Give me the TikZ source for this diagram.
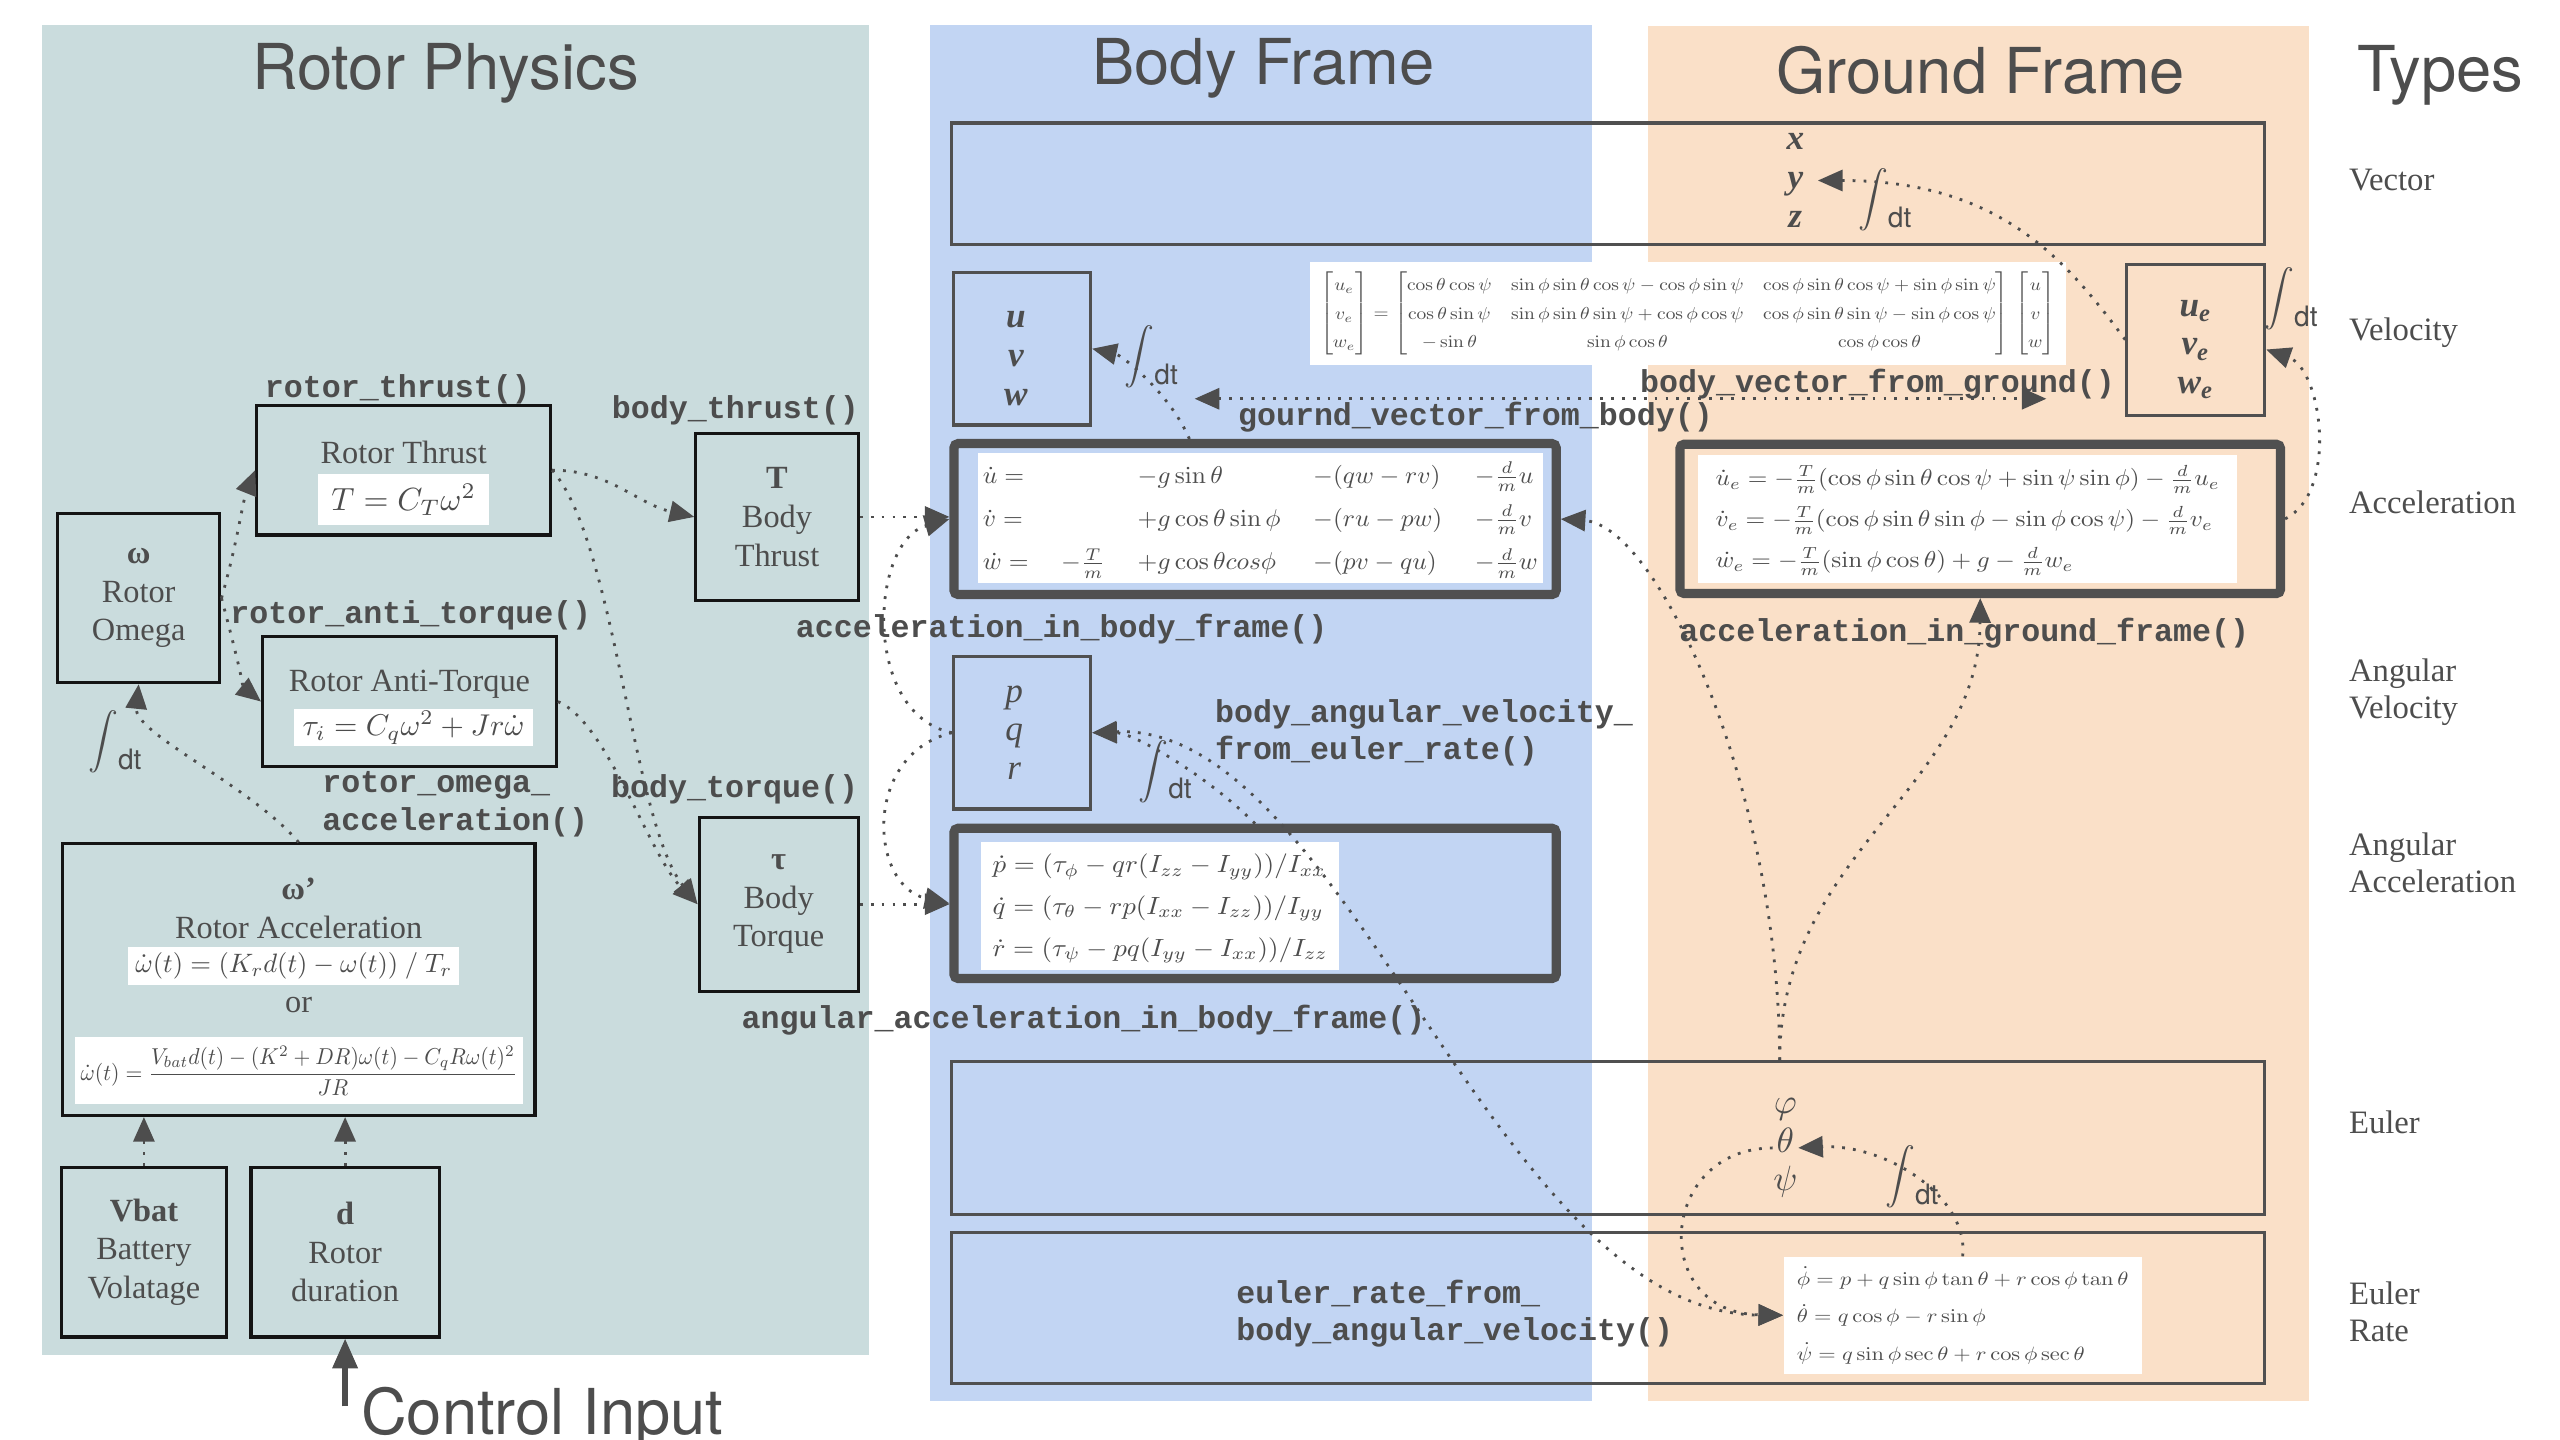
\documentclass[tikz,border=0pt]{standalone}
\usepackage{amsmath}
\usepackage{graphicx}
\usepackage[no-math]{fontspec}
\setmainfont{Liberation Serif}
\setsansfont{TeX Gyre Heros}
\setmonofont{Liberation Mono}
\usepackage{xcolor}
\usepackage{tikz}
\usetikzlibrary{arrows.meta, positioning, calc}

\definecolor{rotorbg}{RGB}{202,220,221}
\definecolor{bodybg}{RGB}{194,213,243}
\definecolor{groundbg}{RGB}{250,224,200}
\definecolor{ink}{RGB}{77,77,77}
\definecolor{rline}{RGB}{20,20,20}
\definecolor{bline}{RGB}{80,80,80}

\newcommand{\du}{0.01641cm}
\newcommand{\boxfont}{\fontsize{9.2}{11}\selectfont}
\newcommand{\fnfont}{\ttfamily\bfseries\fontsize{9}{10.7}\selectfont}
\newcommand{\typefont}{\fontsize{9.3}{10.5}\selectfont}
\newcommand{\headfont}{\sffamily\fontsize{18}{21}\selectfont}
\newcommand{\varfont}{\fontsize{10}{11}\selectfont}
\newcommand{\intdt}{$\displaystyle\int$\raisebox{-5.8pt}{\sffamily dt}}

\tikzset{
    rbox/.style={rectangle, draw=rline, line width=0.9pt, inner sep=0pt, align=center, font=\boxfont, text=ink},
    fbox/.style={rectangle, draw=bline, line width=0.9pt, inner sep=0pt},
    heavy/.style={rectangle, draw=bline, line width=2.6pt, rounded corners=1.2pt, inner sep=0pt},
    eqbox/.style={rectangle, fill=white, inner sep=0pt, text=ink},
    txt/.style={font=\boxfont, text=ink, align=center, inner sep=0pt},
    vartxt/.style={font=\varfont, text=ink, align=center, inner sep=0pt},
    intg/.style={font=\fontsize{8}{9}\selectfont, text=ink, inner sep=0pt},
    fn/.style={font=\fnfont, text=ink, align=left, anchor=west, inner sep=0pt},
    typ/.style={font=\typefont, text=ink, align=left, anchor=west, inner sep=0pt},
    headtxt/.style={font=\headfont, text=ink, anchor=base, inner sep=0pt},
    arrow/.style={draw=ink, line width=0.8pt, dash pattern=on 0.8pt off 2.3pt, -{Triangle[length=7pt, width=6pt]}},
    biarrow/.style={arrow, {Triangle[length=7pt, width=6pt]}-{Triangle[length=7pt, width=6pt]}}
}

\begin{document}
\begin{tikzpicture}[x=0.01641cm, y=-0.01641cm]
    \useasboundingbox (0,0) rectangle (1560,877.5);

    % Panels
    \fill[rotorbg] (25.6,15.4) rectangle (529.5,826);
    \fill[bodybg] (567,15.4) rectangle (970,854);
    \fill[groundbg] (1004,16) rectangle (1407,854);

    % Titles
    \node[headtxt] (hrotor) at (271.5,54.5) {Rotor Physics};
    \node[headtxt] (hbody) at (770,51.5) {Body Frame};
    \node[headtxt] (hground) at (1207,57) {Ground Frame};
    \node[headtxt] (htypes) at (1487,56) {Types};

    % Rotor Physics
    \node[rbox, minimum width=99*\du, minimum height=103*\du] (omega) at (84.5,364.5) {{\bfseries ω}\\Rotor\\Omega};
    \node[intg] (intomega) at (70,452) {\intdt};

    \node[fn] (fnrthrust) at (161,237) {rotor\_thrust()};
    \node[rbox, minimum width=179*\du, minimum height=79*\du] (rthrust) at (246,286.5) {};
    \node[txt] (rthrusttxt) at (246,275.6) {Rotor Thrust};
    \node[eqbox, minimum width=104*\du, minimum height=31*\du] (thrusteq) at (246,304.5) {\resizebox{1.444cm}{!}{$T = C_T\omega^2$}};

    \node[fn] (fnanti) at (140,375) {rotor\_anti\_torque()};
    \node[rbox, minimum width=179*\du, minimum height=79*\du] (antitorque) at (249.5,427.5) {};
    \node[txt] (antitorquetxt) at (249.5,417) {Rotor Anti-Torque};
    \node[eqbox, minimum width=146*\du, minimum height=23*\du] (antieq) at (252,443.4) {\resizebox{2.215cm}{!}{$\tau_i = C_q\omega^2 + Jr\dot\omega$}};

    \node[fn] (fnomega) at (196,490) {rotor\_omega\_\\acceleration()};
    \node[rbox, minimum width=288*\du, minimum height=165.5*\du] (racc) at (182,597) {};
    \node[txt] (racctxt) at (182,553.5) {{\bfseries ω’}\\Rotor Acceleration};
    \node[eqbox, minimum width=202*\du, minimum height=23*\du] (raccq1) at (179,588.5) {\resizebox{3.167cm}{!}{$\dot\omega(t) = (K_r d(t) - \omega(t))\ /\ T_r$}};
    \node[txt] (raccor) at (182,612.6) {or};
    \node[eqbox, minimum width=273.5*\du, minimum height=41*\du] (raccq2) at (182.2,652.5) {\resizebox*{4.365cm}{0.5cm}{$\dot\omega(t) = \dfrac{V_{bat}d(t) - (K^2+DR)\omega(t) - C_qR\omega(t)^2}{JR}$}};

    \node[rbox, minimum width=100.6*\du, minimum height=103.5*\du] (vbat) at (87.7,763) {{\bfseries Vbat}\\Battery\\Volatage};
    \node[rbox, minimum width=114.6*\du, minimum height=103.5*\du] (duty) at (210.3,763) {{\bfseries d}\\Rotor\\duration};
    \coordinate (ctrl) at (210.3,857);
    \node[headtxt, anchor=base west] (ctrltxt) at (219.7,874) {Control Input};

    \node[fn] (fnbthrust) at (372.5,250) {body\_thrust()};
    \node[rbox, minimum width=99*\du, minimum height=102*\du] (bthrust) at (473.5,315) {{\bfseries T}\\Body\\Thrust};
    \node[fn] (fnbtorque) at (372,481) {body\_torque()};
    \node[rbox, minimum width=97*\du, minimum height=106*\du] (btorque) at (474.5,551) {{\bfseries τ}\\Body\\Torque};

    % Vector row
    \node[fbox, minimum width=800.4*\du, minimum height=74*\du] (pos) at (979.8,112) {};
    \node[vartxt, font=\varfont\bfseries\itshape] (xyz) at (1094,110) {x\\y\\z};
    \node[intg] (intxyz) at (1148.5,122) {\intdt};

    % Velocity row
    \node[fbox, minimum width=83.6*\du, minimum height=93*\du] (uvw) at (622.8,212.5) {};
    \node[vartxt, font=\varfont\bfseries\itshape] (uvwlbl) at (619,218.5) {u\\v\\w};
    \node[intg] (intuvw) at (701.5,217.5) {\intdt};
    \node[eqbox, minimum width=461*\du, minimum height=62.5*\du] (rotmat) at (1028.5,191.2) {\renewcommand\arraystretch{1.37}\resizebox*{7.352cm}{0.853cm}{$\begin{bmatrix}u_e\\v_e\\w_e\end{bmatrix} = \begin{bmatrix}\cos\theta\cos\psi & \sin\phi\sin\theta\cos\psi-\cos\phi\sin\psi & \cos\phi\sin\theta\cos\psi+\sin\phi\sin\psi\\ \cos\theta\sin\psi & \sin\phi\sin\theta\sin\psi+\cos\phi\cos\psi & \cos\phi\sin\theta\sin\psi-\sin\phi\cos\psi\\ -\sin\theta & \sin\phi\cos\theta & \cos\phi\cos\theta\end{bmatrix}\,\begin{bmatrix}u\\v\\w\end{bmatrix}$}};
    \node[fn] (fnbv) at (999,234) {body\_vector\_from\_ground()};
    \node[fn] (fngv) at (754,254) {gournd\_vector\_from\_body()};
    \node[fbox, minimum width=84*\du, minimum height=92*\du] (uvwe) at (1338,207) {};
    \node[vartxt, font=\varfont\bfseries\itshape] (uvwelbl) at (1338,213) {u\textsubscript{e}\\v\textsubscript{e}\\w\textsubscript{e}};
    \node[intg] (intuvwe) at (1396,182) {\intdt};

    % Acceleration row
    \node[heavy, minimum width=367*\du, minimum height=92*\du] (accb) at (764.8,316.3) {};
    \node[eqbox, minimum width=344*\du, minimum height=79*\du] (accbq) at (768,315.5) {\renewcommand\arraystretch{1.49}\setlength\arraycolsep{6.4pt}\resizebox*{5.547cm}{1.300cm}{$\begin{array}{@{}lllll@{}} \dot u = & & -g\sin\theta & -(qw-rv) & -\frac{d}{m}u\\ \dot v = & & +g\cos\theta\sin\phi & -(ru-pw) & -\frac{d}{m}v\\ \dot w = & -\frac{T}{m} & +g\cos\theta cos\phi & -(pv-qu) & -\frac{d}{m}w \end{array}$}};
    \node[fn] (fnaccb) at (484.5,383.5) {acceleration\_in\_body\_frame()};
    \node[heavy, minimum width=366*\du, minimum height=91*\du] (accg) at (1206.7,316.2) {};
    \node[eqbox, minimum width=328*\du, minimum height=78*\du] (accgq) at (1199,316) {\renewcommand\arraystretch{1.49}\resizebox*{5.038cm}{1.231cm}{$\begin{array}{@{}l@{}} \dot u_e = -\frac{T}{m}(\cos\phi\sin\theta\cos\psi+\sin\psi\sin\phi) - \frac{d}{m}u_e\\ \dot v_e = -\frac{T}{m}(\cos\phi\sin\theta\sin\phi-\sin\phi\cos\psi) - \frac{d}{m}v_e\\ \dot w_e = -\frac{T}{m}(\sin\phi\cos\theta) + g - \frac{d}{m}w_e \end{array}$}};
    \node[fn] (fnaccg) at (1023,386) {acceleration\_in\_ground\_frame()};

    % Angular velocity row
    \node[fbox, minimum width=83.6*\du, minimum height=93*\du] (pqr) at (622.8,446.5) {};
    \node[vartxt, font=\varfont\itshape] (pqrlbl) at (618,446.5) {p\\q\\r};
    \node[intg] (intpqr) at (710,470) {\intdt};
    \node[fn] (fnbav) at (740,446.5) {body\_angular\_velocity\_\\from\_euler\_rate()};

    % Angular acceleration row
    \node[heavy, minimum width=367*\du, minimum height=91.6*\du] (anga) at (764.8,550.5) {};
    \node[eqbox, minimum width=218*\du, minimum height=78*\du] (angaq) at (707,552) {\renewcommand\arraystretch{1.4}\resizebox*{3.348cm}{1.255cm}{$\begin{array}{@{}l@{}} \dot p = (\tau_\phi - qr(I_{zz}-I_{yy}))/I_{xx}\\ \dot q = (\tau_\theta - rp(I_{xx}-I_{zz}))/I_{yy}\\ \dot r = (\tau_\psi - pq(I_{yy}-I_{xx}))/I_{zz} \end{array}$}};
    \node[fn, anchor=east] (fnanga) at (869,621.6) {angular\_acceleration\_in\_body\_frame()};

    % Euler rows
    \node[fbox, minimum width=800.4*\du, minimum height=93*\du] (euler) at (979.8,693.5) {};
    \node[vartxt] (angles) at (1088,699.5) {$\varphi$\\$\theta$\\$\psi$};
    \node[intg] (inteuler) at (1165,717) {\intdt};
    \node[fbox, minimum width=800.4*\du, minimum height=92*\du] (erate) at (979.8,797) {};
    \node[eqbox, minimum width=218*\du, minimum height=71*\du] (erateq) at (1196,801.5) {\renewcommand\arraystretch{1.63}\resizebox*{3.315cm}{1.132cm}{$\begin{array}{@{}l@{}} \dot\phi = p + q\sin\phi\tan\theta + r\cos\phi\tan\theta\\ \dot\theta = q\cos\phi - r\sin\phi\\ \dot\psi = q\sin\phi\sec\theta + r\cos\phi\sec\theta \end{array}$}};
    \node[fn] (fnerate) at (753,800.5) {euler\_rate\_from\_\\body\_angular\_velocity()};

    % Types
    \node[typ] (tvec) at (1431,110) {Vector};
    \node[typ] (tvel) at (1431,203) {Velocity};
    \node[typ] (tacc) at (1431,306.4) {Acceleration};
    \node[typ] (tangvel) at (1431,422) {Angular\\Velocity};
    \node[typ] (tangacc) at (1431,526) {Angular\\Acceleration};
    \node[typ] (teuler) at (1431,684) {Euler};
    \node[typ] (terate) at (1431,799.5) {Euler\\Rate};

    % Arrows (rotor)
    \draw[arrow] (omega.east) .. controls +(10,-35) and +(-8,20) .. (rthrust.west);
    \draw[arrow] (omega.east) .. controls +(8,30) and +(-10,-8) .. (antitorque.west);
    \draw[arrow] (racc.north) .. controls +(-30,-35) and +(-3,30) .. (omega.south);
    \draw[arrow] (rthrust.east) .. controls +(35,0) and +(-35,-8) .. (bthrust.west);
    \draw[arrow] (rthrust.east) .. controls (375,330) and (385,500) .. (btorque.west);
    \draw[arrow] (antitorque.east) .. controls (370,440) and (395,520) .. (btorque.west);
    \draw[arrow] (vbat.north) -- (vbat.north |- racc.south);
    \draw[arrow] (duty.north) -- (duty.north |- racc.south);
    \draw[draw=ink, line width=1.5pt, -{Triangle[length=8.5pt, width=7pt]}] (ctrl) -- (duty.south);
    \draw[arrow] (bthrust.east) -- (bthrust.east -| accb.west);
    \draw[arrow] (btorque.east) -- (btorque.east -| anga.west);

    % Arrows (body frame)
    \draw[arrow] (pqr.west) .. controls (525,435) and (530,330) .. (accb.west);
    \draw[arrow] (pqr.west) .. controls (525,460) and (530,540) .. (anga.west);
    \coordinate (accbtop) at ($(accb.north)+(-40,0)$);
    \draw[arrow] (accbtop) .. controls +(-12,-28) and +(18,4) .. (uvw.east);
    \draw[arrow] (anga.north) .. controls +(-30,-30) and +(25,0) .. (pqr.east);
    \draw[biarrow] (pqr.east) .. controls (820,440) and (910,800) .. (erateq.west);
    \coordinate (gvleft) at (728,243);
    \coordinate (gvright) at (1247,243);
    \draw[biarrow] (gvleft) -- (gvright);

    % Arrows (ground frame)
    \draw[arrow] (uvwe.west) .. controls (1260,160) and (1220,110) .. ($(xyz.east)+(8,0)$);
    \draw[arrow] (accg.east) .. controls (1425,300) and (1415,225) .. ($(uvwe.east)+(0,6)$);
    \coordinate (eultop) at ($(euler.north)+(104.7,0)$);
    \draw[arrow] (eultop) .. controls (1084,480) and (1010,320) .. (accb.east);
    \draw[arrow] (eultop) .. controls (1084.5,520) and (1206,480) .. (accg.south);
    \draw[arrow] (erateq.north) .. controls (1200,730) and (1150,697) .. (angles.east);
    \draw[arrow] (angles.west) .. controls (1010,700) and (1005,800) .. (erateq.west);

\end{tikzpicture}
\end{document}
